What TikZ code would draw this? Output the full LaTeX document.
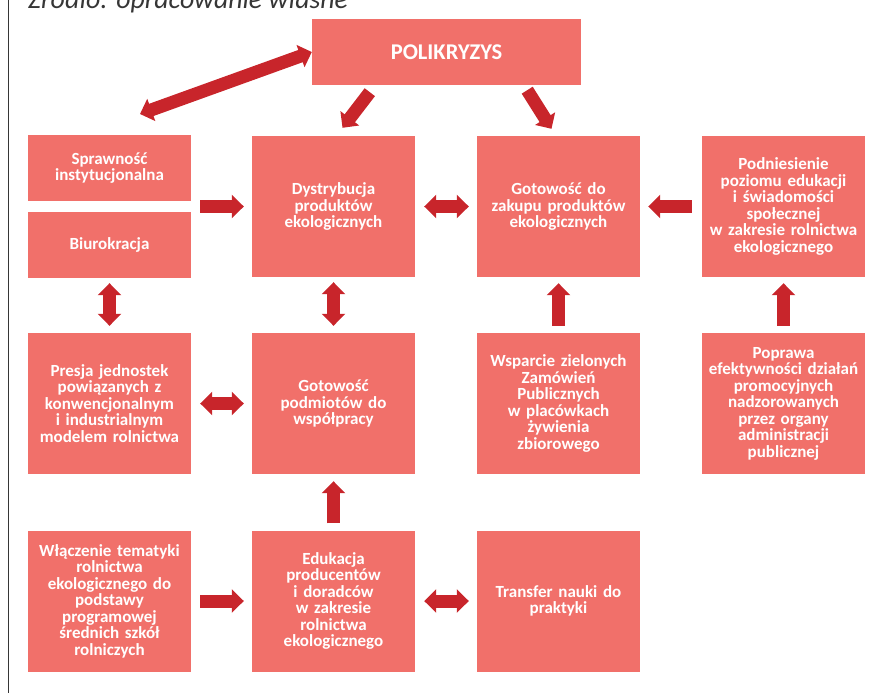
\documentclass[tikz,border=0pt]{standalone}
\usepackage{fontspec}
\setmainfont{Carlito}
\usetikzlibrary{arrows.meta}
\definecolor{boxred}{HTML}{F1706A}
\definecolor{arrowred}{HTML}{C8252B}
\definecolor{framegray}{HTML}{363636}

\begin{document}
\begin{tikzpicture}[
    x=1pt, y=-1pt,
    font=\bfseries\fontsize{17}{16.5}\selectfont,
    box/.style={fill=boxred, text=white, inner sep=0pt, minimum width=163pt, minimum height=141pt, text width=160pt, align=center},
    smallbox/.style={box, minimum height=66pt},
    arrow/.style={-{Triangle[width=23pt,length=12pt]}, line width=13pt, draw=arrowred},
    dblarrow/.style={{Triangle[width=23pt,length=12pt]}-{Triangle[width=23pt,length=12pt]}, line width=13pt, draw=arrowred},
    hgap/.style={shorten <=9pt, shorten >=8pt},
    vgap/.style={shorten <=5pt, shorten >=7pt}
]
    \useasboundingbox (0,0) rectangle (869,693);

    % Frame and source line
    \draw[framegray, line width=1.5pt] (8.5,0) -- (8.5,693);
    \node[anchor=base west, inner sep=0pt, text=framegray, font=\mdseries\itshape\fontsize{27.8}{28}\selectfont] (src) at (28,9) {Źródło: opracowanie własne};

    % Polikryzys
    \node[smallbox, minimum width=269pt, text width=260pt, font=\bfseries\fontsize{22.5}{23}\selectfont] (pol) at (446.5,52) {POLIKRYZYS};
    \coordinate (inst) at (140,114);

    % Top row
    \node[smallbox] (spr) at (109.5,168) {Sprawność\\instytucjonalna};
    \node[smallbox] (biu) at (109.5,245) {Biurokracja};
    \node[box] (dys) at (333.5,206.5) {Dystrybucja\\produktów\\ekologicznych};
    \node[box] (got) at (558.5,206.5) {Gotowość do\\zakupu produktów\\ekologicznych};
    \node[box] (pod) at (783.5,206.5) {Podniesienie\\poziomu edukacji\\i świadomości\\społecznej\\w zakresie rolnictwa\\ekologicznego};

    % Middle row
    \node[box] (pre) at (109.5,403.5) {Presja jednostek\\powiązanych z\\konwencjonalnym\\i industrialnym\\modelem rolnictwa};
    \node[box] (gpd) at (333.5,403.5) {Gotowość\\podmiotów do\\współpracy};
    \node[box] (wsp) at (558.5,403.5) {Wsparcie zielonych\\Zamówień\\Publicznych\\w placówkach\\żywienia\\zbiorowego};
    \node[box] (pop) at (783.5,403.5) {Poprawa\\efektywności działań\\promocyjnych\\nadzorowanych\\przez organy\\administracji\\publicznej};

    % Bottom row
    \node[box] (wla) at (109.5,601) {Włączenie tematyki\\rolnictwa\\ekologicznego do\\podstawy\\programowej\\średnich szkół\\rolniczych};
    \node[box] (edu) at (333.5,601) {Edukacja\\producentów\\i doradców\\w zakresie\\rolnictwa\\ekologicznego};
    \node[box] (tra) at (558.5,601) {Transfer nauki do\\praktyki};

    % Arrows
    \draw[dblarrow] (pol.west) -- (inst);
    \draw[arrow] ([xshift=58pt,yshift=-7pt]pol.south west) -- ([xshift=9pt,yshift=8pt]dys.north);
    \draw[arrow] ([xshift=-54pt,yshift=-5pt]pol.south east) -- ([xshift=-7pt,yshift=7pt]got.north);
    \draw[arrow, hgap] (spr.east |- dys.west) -- (dys.west);
    \draw[dblarrow, hgap] (dys.east) -- (got.west);
    \draw[arrow, shorten <=10pt, shorten >=8pt] (pod.west) -- (got.east);
    \draw[dblarrow, vgap] (biu.south) -- (pre.north);
    \draw[dblarrow, vgap] (dys.south) -- (gpd.north);
    \draw[arrow, shorten <=7pt, shorten >=6pt] (wsp.north) -- (got.south);
    \draw[arrow, shorten <=7pt, shorten >=6pt] (pop.north) -- (pod.south);
    \draw[dblarrow, hgap] (pre.east) -- (gpd.west);
    \draw[arrow, shorten <=7pt, shorten >=7pt] (edu.north) -- (gpd.south);
    \draw[arrow, hgap] (wla.east) -- (edu.west);
    \draw[dblarrow, hgap] (edu.east) -- (tra.west);
\end{tikzpicture}
\end{document}
